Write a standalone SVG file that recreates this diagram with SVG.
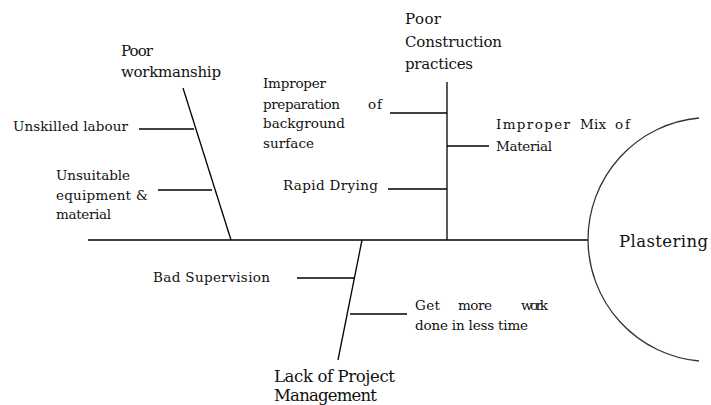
<svg xmlns="http://www.w3.org/2000/svg" width="711" height="405" viewBox="0 0 711 405">
<style>
.l{stroke:#000;stroke-width:1.3;fill:none}
.arc{stroke:#333;stroke-width:1.3;fill:none}
text{fill:#111}
.s{font-size:13.5px}
.m{font-size:15px}
.b{font-size:16.5px}
</style>
<rect width="711" height="405" fill="#fff"/>
<g id="connectors">
<line class="l" x1="88" y1="240" x2="588" y2="240"/>
<line class="l" x1="183" y1="88" x2="231" y2="240"/>
<line class="l" x1="139" y1="129" x2="194" y2="129"/>
<line class="l" x1="158" y1="190" x2="212" y2="190"/>
<line class="l" x1="447" y1="82" x2="447" y2="240"/>
<line class="l" x1="390" y1="113" x2="447" y2="113"/>
<line class="l" x1="388" y1="189" x2="447" y2="189"/>
<line class="l" x1="447" y1="146" x2="489" y2="146"/>
<line class="l" x1="362" y1="240" x2="338" y2="360"/>
<line class="l" x1="297" y1="278" x2="354" y2="278"/>
<line class="l" x1="350" y1="314" x2="407" y2="314"/>
</g>
<g font-family="'DejaVu Serif', 'Liberation Serif', 'Times New Roman', serif">
<g id="plastering">
<path class="arc" d="M699,118 A122,122 0 0 0 699,361"/>
<text class="b" x="619" y="247" textLength="89">Plastering</text>
</g>
<g id="poor-workmanship">
<text class="m" x="121" y="56" textLength="32">Poor</text>
<text class="m" x="121" y="77" textLength="100">workmanship</text>
</g>
<g id="unskilled-labour">
<text class="s" x="13" y="131" textLength="115">Unskilled labour</text>
</g>
<g id="unsuitable-equipment">
<text class="s" x="56" y="180" textLength="74">Unsuitable</text>
<text class="s" x="56" y="200" textLength="75">equipment</text>
<text class="s" x="136" y="200">&amp;</text>
<text class="s" x="56" y="219" textLength="55">material</text>
</g>
<g id="poor-construction">
<text class="m" x="405" y="24" textLength="36">Poor</text>
<text class="m" x="405" y="47" textLength="97">Construction</text>
<text class="m" x="405" y="69" textLength="68">practices</text>
</g>
<g id="improper-preparation">
<text class="s" x="263" y="88" textLength="63">Improper</text>
<text class="s" x="263" y="109" textLength="77">preparation</text>
<text class="s" x="368" y="109" textLength="14">of</text>
<text class="s" x="263" y="128" textLength="82">background</text>
<text class="s" x="263" y="148" textLength="51">surface</text>
</g>
<g id="rapid-drying">
<text class="s" x="283" y="190" textLength="95">Rapid Drying</text>
</g>
<g id="improper-mix">
<text class="s" x="496" y="129" textLength="74">Improper</text>
<text class="s" x="580" y="129" textLength="26">Mix</text>
<text class="s" x="615" y="129" textLength="15">of</text>
<text class="s" x="496" y="151" textLength="56">Material</text>
</g>
<g id="bad-supervision">
<text class="s" x="153" y="282" textLength="117">Bad Supervision</text>
</g>
<g id="get-more-work">
<text class="s" x="415" y="310" textLength="25">Get</text>
<text class="s" x="458" y="310" textLength="34">more</text>
<text class="s" x="521" y="310" textLength="27">work</text>
<text class="s" x="415" y="330" textLength="113">done in less time</text>
</g>
<g id="lack-project-management">
<text class="b" x="274" y="382" textLength="121">Lack of Project</text>
<text class="b" x="274" y="401" textLength="103">Management</text>
</g>
</g>
</svg>
